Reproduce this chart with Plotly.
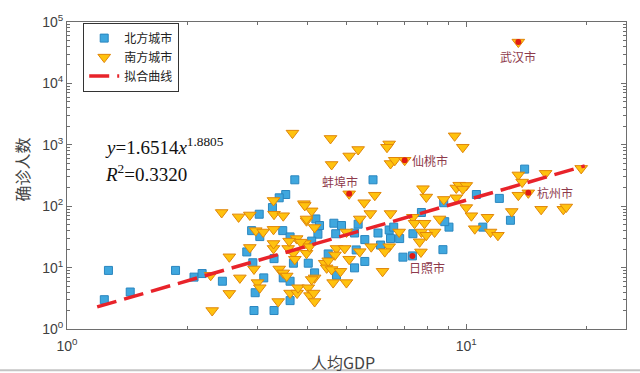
import math
import numpy as np
import plotly.graph_objects as go

# 北方城市 (squares)
north_gdp = [1.24, 1.27, 1.44, 1.87, 2.08, 2.18, 2.45, 2.82, 2.90, 3.04, 2.92, 3.11, 2.96, 2.94,
             3.30, 3.30, 3.47, 3.48, 3.62, 3.62, 3.62, 3.69, 4.02, 4.17, 4.20, 4.29, 4.25, 3.72,
             3.53, 3.40, 3.27, 3.03, 5.84, 8.78, 7.72, 14.0, 12.1, 10.6, 12.9, 11.0, 9.05, 8.83,
             8.74, 4.66, 4.87, 4.71, 5.25, 5.57, 6.10, 6.01, 6.41, 6.58, 6.81, 6.46, 6.94, 7.33,
             5.25, 5.57, 5.30, 4.51, 4.73, 7.35, 4.10, 5.36]
north_cases = [3, 9, 4, 9, 7, 8, 6, 18, 40, 32, 12, 6.8, 3.9, 2,
               2, 14, 40, 6.8, 6.0, 2.9, 31.6, 11.8, 11.8, 8.2, 62, 48.5, 35, 269,
               155, 137, 95, 74, 269, 114, 79, 402, 134, 155, 59, 45.6, 45.6, 56,
               19.6, 52.8, 48.5, 35.6, 36.6, 28.6, 23.3, 36.6, 41, 45.6, 29.7, 29.7, 14.8, 15.5,
               9.9, 12.6, 19.4, 16.7, 7.5, 35.6, 27, 51]

# 南方城市 (triangles)
south_gdp = [2.29, 2.31, 2.55, 2.55, 2.71, 2.87, 2.97, 3.10, 3.29, 2.94, 3.00, 3.04, 3.29, 3.29,
             3.40, 3.48, 3.55, 3.38, 3.62, 3.77, 3.79, 4.02, 4.06, 4.15, 4.17, 3.58, 3.69, 3.72,
             3.76, 3.94, 3.98, 4.17, 3.98, 4.17, 3.67, 3.29, 3.30, 3.48, 3.92, 4.10, 3.98, 2.44,
             2.69, 2.87, 4.57, 5.36, 5.09, 4.60, 6.41, 6.33, 6.46, 6.62, 7.01, 9.35, 5.09, 5.90,
             5.55, 5.75, 6.46, 7.79, 7.94, 8.78, 9.44, 9.44, 7.35, 9.80, 13.5, 13.8, 15.8, 19.4,
             14.3, 13.5, 15.4, 17.5, 17.8, 13.0, 11.3, 10.3, 10.0, 9.6, 10.0, 9.8, 10.5, 11.5,
             12.0, 8.57, 7.70, 4.73, 4.69, 4.42, 4.47, 4.60, 4.84, 4.64, 5.01, 5.01, 6.79, 6.41,
             6.25, 6.17, 5.41, 5.09, 7.72, 8.33, 7.42, 7.86, 7.64, 7.94, 3.94, 3.60, 3.85, 4.05,
             4.10, 4.51, 4.96, 5.41, 5.78, 13.5]
south_cases = [7.5, 2, 3.8, 15, 6.8, 21.3, 40, 38, 42, 9.5, 5.7, 4.7, 20.5, 24.7,
               9.5, 8.2, 7.3, 2.8, 3.85, 3.85, 4.7, 4.7, 3.5, 3.85, 2.8, 20.5, 17.1, 13.7,
               29.7, 24.7, 17.1, 6.8, 58, 45, 1550, 124, 74, 70, 110, 84, 62, 79,
               67, 72, 1270, 838, 658, 478, 1033, 913, 496, 560, 560, 1400, 159, 151,
               114, 76, 76, 193, 141, 129, 198, 137, 66, 913, 323, 247, 343, 413,
               165, 151, 89, 89, 97, 82, 66, 70, 95, 220, 218, 190, 43, 38,
               33.6, 62, 18, 20.5, 16.1, 11.8, 9.9, 9.3, 8.7, 5.7, 5.7, 38, 38, 21.9,
               18.2, 8.7, 18.2, 13.7, 38, 38, 52.8, 52.8, 26.3, 33.6, 103, 27, 26, 21.9,
               6.4, 12.9, 20.5, 62, 21.9, 47100]

# highlighted cities
city_names = ["武汉市", "仙桃市", "蚌埠市", "杭州市", "日照市"]
city_gdp = [13.5, 7.01, 5.09, 14.3, 7.33]
city_cases = [47100, 560, 159, 165, 15.5]

# fitted curve y = a * x^b
fit_a = 1.6514
fit_b = 1.8805
fit_xmin, fit_xmax = 1.19, 19.8

x_ticks = [1, 10]
x_ticktext = ["10<sup>0</sup>", "10<sup>1</sup>"]
y_ticks = [1, 10, 100, 1000, 10000, 100000]
y_ticktext = ["10<sup>%d</sup>" % i for i in range(6)]

fit_x = np.geomspace(fit_xmin, fit_xmax, 60)
fit_y = fit_a * fit_x ** fit_b

fig = go.Figure()
fig.add_trace(go.Scatter(
    x=north_gdp, y=north_cases, mode="markers", name="北方城市",
    marker=dict(symbol="square", size=8, color="#3FA7DE",
                line=dict(color="#2A86BF", width=1))))
fig.add_trace(go.Scatter(
    x=south_gdp, y=south_cases, mode="markers", name="南方城市",
    marker=dict(symbol="triangle-down", size=11, color="#FFC20E",
                line=dict(color="#E0860A", width=1))))
fig.add_trace(go.Scatter(
    x=fit_x, y=fit_y, mode="lines", name="拟合曲线",
    line=dict(color="#E8232A", width=3.5, dash="20px,8px")))
fig.add_trace(go.Scatter(
    x=city_gdp, y=city_cases, mode="markers", showlegend=False,
    marker=dict(symbol="circle", size=6, color="#E01A14")))

label_color = "#8E3A4C"
label_font = dict(family="Noto Sans CJK SC", size=12, color=label_color)
offsets = {
    "武汉市": dict(xshift=0, yshift=-14, xanchor="center"),
    "仙桃市": dict(xshift=5, yshift=0, xanchor="left"),
    "蚌埠市": dict(xshift=-9, yshift=12, xanchor="center"),
    "杭州市": dict(xshift=7, yshift=0, xanchor="left"),
    "日照市": dict(xshift=15, yshift=-12, xanchor="center"),
}
for name, gx, cy in zip(city_names, city_gdp, city_cases):
    o = offsets[name]
    fig.add_annotation(x=math.log10(gx), y=math.log10(cy), text=name, showarrow=False,
                       font=label_font, xanchor=o["xanchor"], yanchor="middle",
                       xshift=o["xshift"], yshift=o["yshift"])

fig.add_annotation(xref="paper", yref="paper", x=0.065, y=0.597, xanchor="left", yanchor="middle",
                   text="<i>y</i>=1.6514<i>x</i><sup>1.8805</sup>", showarrow=False,
                   font=dict(family="Liberation Serif", size=19, color="#111111"))
fig.add_annotation(xref="paper", yref="paper", x=0.065, y=0.507, xanchor="left", yanchor="middle",
                   text="<i>R</i><sup>2</sup>=0.3320", showarrow=False,
                   font=dict(family="Liberation Serif", size=19, color="#111111"))

# axis titles
fig.add_annotation(xref="paper", yref="paper", x=(343 - 66.7) / 559, y=(329 - 363) / 313.3,
                   text="人均GDP", showarrow=False, xanchor="center", yanchor="middle",
                   font=dict(family="Noto Sans CJK SC", size=16, color="#444444"))
fig.add_annotation(xref="paper", yref="paper", x=(22 - 66.7) / 559, y=(329 - 166) / 313.3,
                   text="确诊人数", showarrow=False, textangle=-90, xanchor="center", yanchor="middle",
                   font=dict(family="Noto Sans CJK SC", size=16, color="#444444"))

# bottom grey border of the screenshot
fig.add_shape(type="line", xref="paper", yref="paper", x0=-0.2, x1=1.1,
              y0=(329 - 371) / 313.3, y1=(329 - 371) / 313.3,
              line=dict(color="#C4C4C4", width=2))

axis_color = "#6E6E6E"
x_minor = [2, 3, 4, 5, 6, 7, 8, 9, 20]
y_minor = [m * 10 ** k for k in range(5) for m in range(2, 10)]

fig.update_xaxes(type="log", range=[0, 1.4], showgrid=False, zeroline=False,
                 showline=True, linecolor=axis_color, linewidth=1, mirror="ticks",
                 ticks="inside", ticklen=5, tickcolor=axis_color,
                 tickmode="array", tickvals=x_ticks, ticktext=x_ticktext,
                 tickfont=dict(family="Liberation Sans", size=14, color="#404040"),
                 ticklabelstandoff=4,
                 minor=dict(ticks="inside", ticklen=3, tickcolor=axis_color,
                            tickmode="array", tickvals=x_minor, showgrid=False))
fig.update_yaxes(type="log", range=[0, 5], showgrid=False, zeroline=False,
                 showline=True, linecolor=axis_color, linewidth=1, mirror="ticks",
                 ticks="inside", ticklen=5, tickcolor=axis_color,
                 tickmode="array", tickvals=y_ticks, ticktext=y_ticktext,
                 tickfont=dict(family="Liberation Sans", size=14, color="#404040"),
                 minor=dict(ticks="inside", ticklen=3, tickcolor=axis_color,
                            tickmode="array", tickvals=y_minor, showgrid=False))

fig.update_layout(
    width=640, height=373,
    margin=dict(l=67, r=14, t=16, b=44),
    paper_bgcolor="white", plot_bgcolor="white",
    legend=dict(x=0.029, y=0.998, xanchor="left", yanchor="top",
                bgcolor="white", bordercolor="#333333", borderwidth=1,
                font=dict(family="Noto Sans CJK SC", size=12, color="#222222"),
                tracegroupgap=0, itemwidth=30),
    showlegend=True,
)

fig.write_html("out.html", config={"displayModeBar": False},
               post_script="document.body.style.margin='0';document.body.style.overflow='hidden';")
